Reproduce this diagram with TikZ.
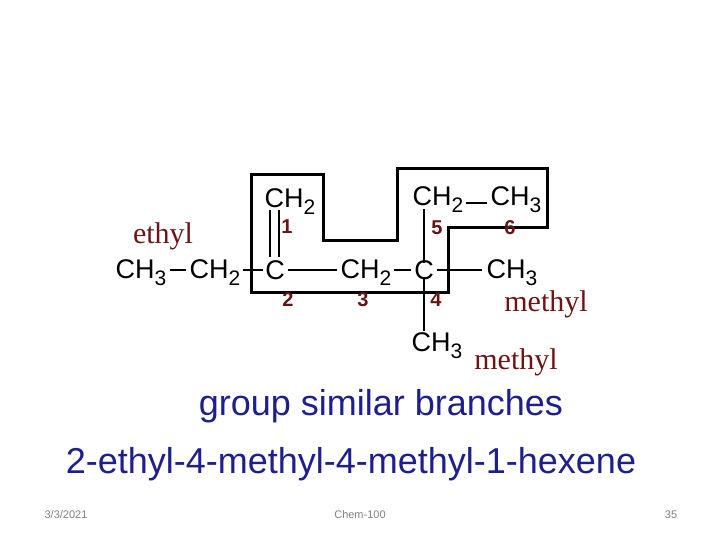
\documentclass[tikz,border=0pt]{standalone}
\usepackage{fontspec}
\setmainfont{Liberation Sans}
\newfontfamily\serifF{Liberation Serif}
\newcommand{\ssub}[1]{\raisebox{-0.5ex}{\fontsize{21}{21}\selectfont #1}}
\definecolor{dred}{RGB}{110,20,20}
\definecolor{nred}{RGB}{100,20,20}
\definecolor{tblue}{RGB}{30,30,140}
\begin{document}
\begin{tikzpicture}[x=1pt,y=-1pt,
  chem/.style={inner sep=0pt,font=\fontsize{27}{27}\selectfont},
  num/.style={inner sep=0pt,text=nred,font=\fontsize{20}{20}\selectfont\bfseries},
  grp/.style={inner sep=0pt,text=dred,font=\serifF\fontsize{30}{30}\selectfont},
  bond/.style={line width=1.5pt},
  foot/.style={inner sep=0pt,text=gray,font=\fontsize{11}{11}\selectfont}]
\useasboundingbox (0,0) rectangle (720,540);
\node[chem] (a) at (141,273) {CH\ssub{3}};
\node[chem] (b) at (215,273) {CH\ssub{2}};
\node[chem] (c2) at (275,270) {C};
\node[chem] (c1) at (290,202) {CH\ssub{2}};
\node[chem] (c3) at (366,273) {CH\ssub{2}};
\node[chem] (c4) at (424,270) {C};
\node[chem] (c5) at (438,200) {CH\ssub{2}};
\node[chem] (c6) at (516,200) {CH\ssub{3}};
\node[chem] (m1) at (512,273) {CH\ssub{3}};
\node[chem] (m2) at (437,346) {CH\ssub{3}};
\coordinate (b1s) at (270,210); \coordinate (b1e) at (270,257);
\coordinate (b2s) at (279,210); \coordinate (b2e) at (279,257);
\draw[bond] (b1s) -- (b1e); \draw[bond] (b2s) -- (b2e);
\draw[bond] ([xshift=3]a.east |- c2.center) -- ([xshift=-3]b.west |- c2.center);
\draw[bond] ([xshift=2]b.east |- c2.center) -- ([xshift=-2]c2.west);
\draw[bond] ([xshift=3]c2.east) -- ([xshift=-3]c3.west |- c2.center);
\draw[bond] ([xshift=2]c3.east |- c2.center) -- ([xshift=-3]c4.west);
\draw[bond] ([xshift=3]c4.east) -- ([xshift=-4]m1.west |- c4.center);
\draw[bond] ([xshift=2,yshift=-3]c5.east) -- ([xshift=-3,yshift=-3]c6.west);
\coordinate (t2) at (424,209);
\coordinate (t4) at (424,331);
\draw[bond] ([yshift=-3]c4.north) -- (t2);
\draw[bond] ([yshift=3]c4.south) -- (t4);
\draw[line width=3pt,line join=miter] (251,175) -- (323,175) -- (323,240) -- (397,240) -- (397,169) -- (547,169) -- (547,228) -- (448,228) -- (448,292) -- (251,292) -- cycle;
\node[num] (n1) at (287,227) {1};
\node[num] (n2) at (288,300) {2};
\node[num] (n3) at (363,300) {3};
\node[num] (n4) at (436,300) {4};
\node[num] (n5) at (437,228) {5};
\node[num] (n6) at (510,228) {6};
\node[grp] (g1) at (163,236) {ethyl};
\node[grp] (g2) at (546,304) {methyl};
\node[grp] (g3) at (516,362) {methyl};
\node[inner sep=0pt,text=tblue,font=\fontsize{36}{36}\selectfont] (t1) at (381,406) {group similar branches};
\node[inner sep=0pt,text=tblue,font=\fontsize{36}{36}\selectfont] (tt) at (351,464) {2-ethyl-4-methyl-4-methyl-1-hexene};
\node[foot] (f1) at (66,515) {3/3/2021};
\node[foot] (f2) at (360,515) {Chem-100};
\node[foot] (f3) at (671,515) {35};
\end{tikzpicture}
\end{document}
